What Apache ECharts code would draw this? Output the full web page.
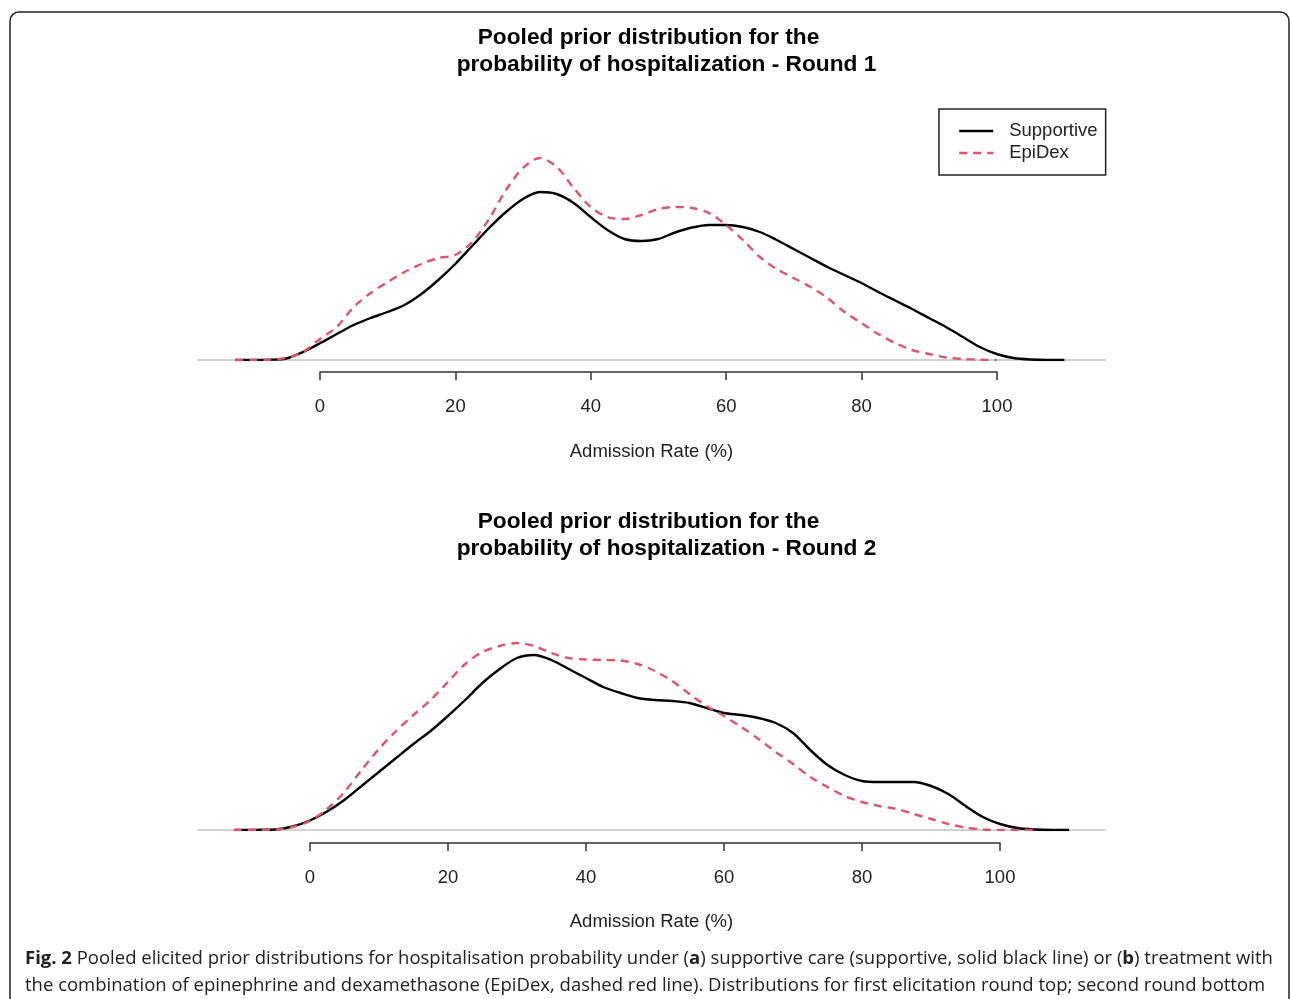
<!DOCTYPE html>
<html>
<head>
<meta charset="utf-8">
<script src="https://cdn.jsdelivr.net/npm/echarts@6/dist/echarts.min.js"></script>
<style>
  html, body { margin: 0; padding: 0; background: #fff; }
  #chart { width: 1290px; height: 999px; }
</style>
</head>
<body>
<div id="chart"></div>
<script>
// Round 1 - supportive care (admission rate %, density)
const r1SupX = [-12.5, -10, -7.5, -5, -2.5, 0, 2.5, 5, 7.5, 10, 12.5, 15, 17.5, 20, 22.5, 25, 27.5, 30, 32.5, 35, 37.5, 40, 42.5, 45, 47.5, 50, 52.5, 55, 57.5, 60, 62.5, 65, 67.5, 70, 72.5, 75, 77.5, 80, 82.5, 85, 87.5, 90, 92.5, 95, 97.5, 100, 102.5, 105, 107.5, 110]
const r1SupY = [0, 0, 0.00003, 0.00015, 0.0008, 0.00167, 0.0026, 0.0035, 0.0042, 0.0048, 0.0055, 0.0066, 0.008, 0.0096, 0.0114, 0.0132, 0.0148, 0.0161, 0.0168, 0.0166, 0.0157, 0.0143, 0.013, 0.0121, 0.0119, 0.0121, 0.01275, 0.01325, 0.0135, 0.0135, 0.0133, 0.0128, 0.012, 0.0111, 0.0102, 0.0093, 0.0085, 0.0077, 0.0068, 0.00595, 0.0051, 0.0042, 0.0033, 0.0023, 0.0013, 0.0006, 0.0002, 0.00005, 0, 0]
// Round 1 - EpiDex
const r1EpiX = [-12.5, -10, -7.5, -5, -2.5, 0, 2.5, 5, 7.5, 10, 12.5, 15, 17.5, 20, 22.5, 25, 27.5, 30, 32.5, 35, 37.5, 40, 42.5, 45, 47.5, 50, 52.5, 55, 57.5, 60, 62.5, 65, 67.5, 70, 72.5, 75, 77.5, 80, 82.5, 85, 87.5, 90, 92.5, 95, 97.5, 100]
const r1EpiY = [0, 0, 0.00003, 0.0002, 0.0008, 0.0021, 0.0033, 0.0053, 0.0067, 0.0078, 0.0088, 0.0096, 0.0102, 0.0105, 0.0118, 0.0141, 0.017, 0.0192, 0.0202, 0.0193, 0.0172, 0.0153, 0.0143, 0.0141, 0.0145, 0.0151, 0.0153, 0.0152, 0.0147, 0.0135, 0.012, 0.0103, 0.0091, 0.0082, 0.0073, 0.0062, 0.0048, 0.0037, 0.0026, 0.0017, 0.001, 0.0006, 0.00025, 0.0001, 0.00003, 0]
// Round 2 - supportive care
const r2SupX = [-11, -7.5, -5, -2.5, 0, 2.5, 5, 7.5, 10, 12.5, 15, 17.5, 20, 22.5, 25, 27.5, 30, 32.5, 35, 37.5, 40, 42.5, 45, 47.5, 50, 52.5, 55, 57.5, 60, 62.5, 65, 67.5, 70, 72.5, 75, 77.5, 80, 82.5, 85, 87.5, 90, 92.5, 95, 97.5, 100, 102.5, 105, 107.5, 110]
const r2SupY = [0, 0.00002, 0.00005, 0.00035, 0.00095, 0.00185, 0.003, 0.0044, 0.0058, 0.0072, 0.0086, 0.0099, 0.0114, 0.013, 0.0147, 0.0161, 0.0172, 0.0175, 0.017, 0.0161, 0.0152, 0.0143, 0.0137, 0.0132, 0.013, 0.0129, 0.0127, 0.0122, 0.0117, 0.0115, 0.0112, 0.0107, 0.0097, 0.008, 0.0065, 0.0055, 0.0049, 0.0048, 0.0048, 0.0048, 0.0044, 0.0036, 0.0024, 0.0013, 0.0006, 0.0002, 0.00005, 0, 0]
// Round 2 - EpiDex
const r2EpiX = [-11, -7.5, -5, -2.5, 0, 2.5, 5, 7.5, 10, 12.5, 15, 17.5, 20, 22.5, 25, 27.5, 30, 32.5, 35, 37.5, 40, 42.5, 45, 47.5, 50, 52.5, 55, 57.5, 60, 62.5, 65, 67.5, 70, 72.5, 75, 77.5, 80, 82.5, 85, 87.5, 90, 92.5, 95, 97.5, 100, 102.5, 105]
const r2EpiY = [0, 0.00002, 0.00005, 0.0003, 0.0009, 0.0021, 0.0038, 0.006, 0.0081, 0.0099, 0.0115, 0.013, 0.0148, 0.0166, 0.0178, 0.0184, 0.0187, 0.0184, 0.0177, 0.0172, 0.01705, 0.017, 0.01695, 0.0166, 0.0159, 0.0149, 0.0136, 0.0124, 0.0114, 0.0103, 0.0091, 0.0078, 0.0066, 0.0053, 0.0043, 0.0034, 0.0028, 0.0024, 0.0021, 0.0016, 0.0011, 0.0006, 0.00025, 0.00005, 0, 0, 0]

const titles = ['Pooled prior distribution for the', 'probability of hospitalization - Round 1', 'probability of hospitalization - Round 2']
const seriesNames = ['Supportive', 'EpiDex']

const font = '"Liberation Sans", Arial, sans-serif'
const red = '#DF536B'

const pairs = (xs, ys) => xs.map((x, i) => [x, ys[i]])

// axis carrying the curves: grey zero line across the plot region, name centred on it
function curveAxis (grid, min, max) {
  return {
    gridIndex: grid, type: 'value', min: min, max: max,
    axisLine: { show: true, lineStyle: { color: '#c4c4c4', width: 1.5 } },
    axisTick: { show: false }, axisLabel: { show: false }, splitLine: { show: false },
    name: 'Admission Rate (%)', nameLocation: 'middle', nameGap: 82,
    nameTextStyle: { fontSize: 18.5, color: '#222', fontFamily: font }
  }
}

// R style axis from 0 to 100 only
function rateAxis (grid) {
  return {
    gridIndex: grid, type: 'value', min: 0, max: 100, interval: 20,
    axisLine: { show: true, lineStyle: { color: '#333', width: 1.5 } },
    axisTick: { show: true, length: 8, lineStyle: { color: '#333', width: 1.5 } },
    axisLabel: { margin: 25, fontSize: 18.5, color: '#222', fontFamily: font },
    splitLine: { show: false }
  }
}

function line (name, data, grid, dashed) {
  return {
    name: name, type: 'line', xAxisIndex: grid, yAxisIndex: grid,
    data: data, smooth: 0.3, symbol: 'none', silent: true,
    lineStyle: { color: dashed ? red : '#000', width: 2.4, type: dashed ? [8, 6] : 'solid' },
    itemStyle: { color: dashed ? red : '#000' }
  }
}

function titleText (text, x, y) {
  return {
    type: 'text', x: x, y: y,
    style: { text: text, fontSize: 22.7, fontWeight: 'bold', fontFamily: font, fill: '#000', align: 'center', verticalAlign: 'middle' }
  }
}

const capFont = '"Open Sans", "Noto Sans", sans-serif'
const capRich = { b: { fontWeight: 'bold', fontSize: 18.5, fontFamily: capFont, fill: '#222' } }

let chart = echarts.init(document.getElementById('chart'))
chart.setOption({
  animation: false,
  grid: [
    { left: 198, top: 150, width: 907, height: 210 },
    { left: 320, top: 371, width: 677, height: 1 },
    { left: 198, top: 620, width: 907, height: 210 },
    { left: 310, top: 842, width: 690, height: 1 }
  ],
  xAxis: [curveAxis(0, -18, 116), rateAxis(1), curveAxis(2, -16.2, 115.2), rateAxis(3)],
  yAxis: [
    { gridIndex: 0, type: 'value', min: 0, max: 0.021, show: false },
    { gridIndex: 1, type: 'value', min: 0, max: 1, show: false },
    { gridIndex: 2, type: 'value', min: 0, max: 0.021, show: false },
    { gridIndex: 3, type: 'value', min: 0, max: 1, show: false }
  ],
  legend: {
    data: seriesNames, orient: 'vertical', left: 939, top: 109,
    padding: [12, 8, 12, 19], itemWidth: 34, itemHeight: 14, itemGap: 2,
    borderColor: '#222', borderWidth: 1.5, borderRadius: 0,
    selectedMode: false,
    itemStyle: { opacity: 0 },
    lineStyle: { width: 2.4 },
    textStyle: { fontSize: 18.5, color: '#222', fontFamily: font, lineHeight: 20, padding: [0, 0, 0, 11] }
  },
  series: [
    line(seriesNames[0], pairs(r1SupX, r1SupY), 0, false),
    line(seriesNames[1], pairs(r1EpiX, r1EpiY), 0, true),
    line(seriesNames[0], pairs(r2SupX, r2SupY), 2, false),
    line(seriesNames[1], pairs(r2EpiX, r2EpiY), 2, true)
  ],
  graphic: [
    { type: 'rect', z: -1, shape: { x: 10, y: 12, width: 1279, height: 1000, r: 9 }, style: { fill: 'none', stroke: '#222', lineWidth: 1.5 } },
    titleText(titles[0], 648.5, 38),
    titleText(titles[1], 666.5, 65),
    titleText(titles[0], 648.5, 522),
    titleText(titles[2], 666.5, 549),
    {
      type: 'text', x: 25, y: 959,
      style: {
        text: '{b|Fig. 2} Pooled elicited prior distributions for hospitalisation probability under ({b|a}) supportive care (supportive, solid black line) or ({b|b}) treatment with',
        fontSize: 18.5, fontFamily: capFont, fill: '#222', verticalAlign: 'middle', rich: capRich
      }
    },
    {
      type: 'text', x: 25, y: 986,
      style: {
        text: 'the combination of epinephrine and dexamethasone (EpiDex, dashed red line). Distributions for first elicitation round top; second round bottom',
        fontSize: 18.5, fontFamily: capFont, fill: '#222', verticalAlign: 'middle'
      }
    }
  ]
})
</script>
</body>
</html>
